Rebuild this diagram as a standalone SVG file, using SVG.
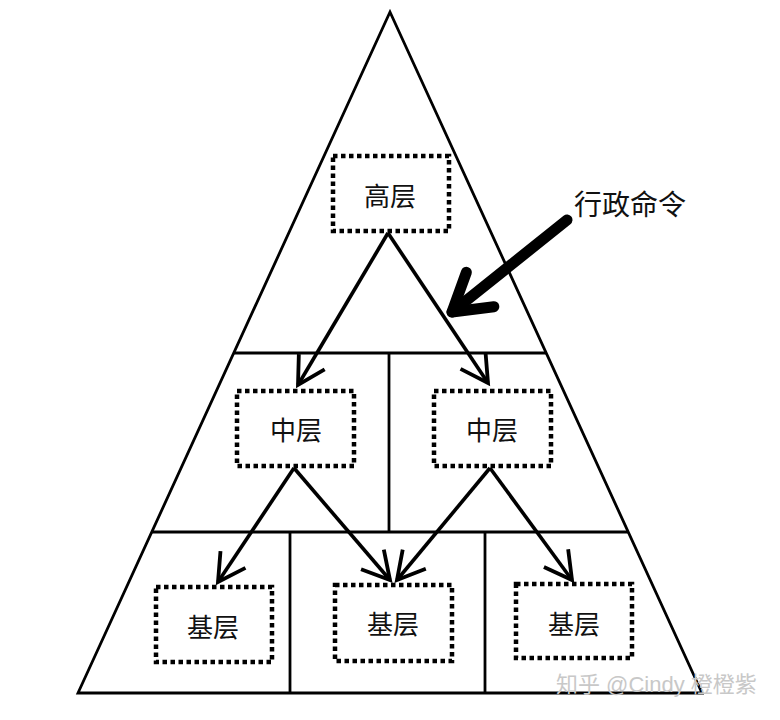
<svg xmlns="http://www.w3.org/2000/svg" width="780" height="720" viewBox="0 0 780 720">
<style>
.frame{fill:none;stroke:#000;stroke-width:2.8;stroke-linejoin:miter}
.box{fill:#fff;stroke:#000;stroke-width:4.5;stroke-dasharray:4.5 3.5}
.lbl{font-family:"Noto Sans CJK SC","Noto Sans",sans-serif;font-size:26px;fill:#111;text-anchor:middle;dominant-baseline:central}
.conn{fill:none;stroke:#000;stroke-width:3.6}
.wm{font-family:"Liberation Sans","Noto Sans CJK SC",sans-serif;font-size:22px;fill:#c8c8c8}
</style>
<defs>
<marker id="ah" markerUnits="userSpaceOnUse" viewBox="-32 -20 36 40" refX="0" refY="0" markerWidth="36" markerHeight="40" orient="auto" overflow="visible">
<path d="M-27,-15 L0,0 L-27,15" fill="none" stroke="#000" stroke-width="3.8"/>
</marker>
<marker id="big" markerUnits="userSpaceOnUse" viewBox="-50 -30 56 60" refX="0" refY="0" markerWidth="56" markerHeight="60" orient="auto" overflow="visible">
<path d="M-36,-22 L0,0 L-36,22" fill="none" stroke="#000" stroke-width="11" stroke-linecap="round" stroke-linejoin="round"/>
</marker>
</defs>
<rect width="780" height="720" fill="#fff"/>
<g id="pyramid">
<path class="frame" d="M390,12 L78,693 L702,693 Z"/>
<line class="frame" x1="233" y1="353" x2="547" y2="353"/>
<line class="frame" x1="151" y1="532" x2="629" y2="532"/>
<line class="frame" x1="389" y1="353" x2="389" y2="532"/>
<line class="frame" x1="290" y1="532" x2="290" y2="693"/>
<line class="frame" x1="485" y1="532" x2="485" y2="693"/>
</g>
<g id="connectors">
<line class="conn" x1="388" y1="233" x2="298" y2="385" marker-end="url(#ah)"/>
<line class="conn" x1="388" y1="233" x2="488" y2="383" marker-end="url(#ah)"/>
<line class="conn" x1="294" y1="468" x2="218" y2="582" marker-end="url(#ah)"/>
<line class="conn" x1="294" y1="468" x2="390" y2="580" marker-end="url(#ah)"/>
<line class="conn" x1="490" y1="468" x2="397" y2="580" marker-end="url(#ah)"/>
<line class="conn" x1="490" y1="468" x2="572" y2="580" marker-end="url(#ah)"/>
<line x1="567" y1="220" x2="452" y2="312" stroke="#000" stroke-width="11" stroke-linecap="round" marker-end="url(#big)"/>
</g>
<g id="high">
<rect class="box" x="333" y="156" width="116" height="75"/>
<text class="lbl" x="390" y="194">高层</text>
</g>
<g id="mid-left">
<rect class="box" x="237" y="391" width="117" height="75"/>
<text class="lbl" x="296" y="428">中层</text>
</g>
<g id="mid-right">
<rect class="box" x="434" y="391" width="117" height="75"/>
<text class="lbl" x="492" y="428">中层</text>
</g>
<g id="base-left">
<rect class="box" x="156" y="587" width="116" height="75"/>
<text class="lbl" x="213" y="625">基层</text>
</g>
<g id="base-mid">
<rect class="box" x="335" y="585" width="117" height="76"/>
<text class="lbl" x="393" y="622">基层</text>
</g>
<g id="base-right">
<rect class="box" x="516" y="584" width="116" height="74"/>
<text class="lbl" x="574" y="622">基层</text>
</g>
<g id="command">
<text class="lbl" x="630" y="203" style="font-size:28px">行政命令</text>
</g>
<text class="wm" x="556" y="692">知乎 @Cindy 橙橙紫</text>
</svg>
